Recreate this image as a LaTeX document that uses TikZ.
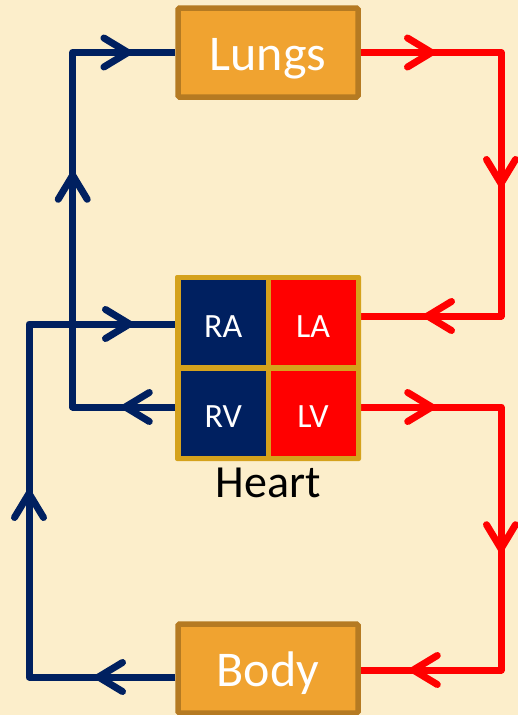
\documentclass[tikz,border=0pt]{standalone}
\usepackage{fontspec}
\setmainfont{Carlito}
\usetikzlibrary{arrows.meta,decorations.markings}
\pgfdeclarelayer{back}\pgfdeclarelayer{bg}\pgfsetlayers{back,bg,main}
\definecolor{bgc}{HTML}{FCEECB}
\definecolor{navyc}{HTML}{002060}
\definecolor{redc}{HTML}{FF0000}
\definecolor{orfill}{HTML}{F0A330}
\definecolor{ordraw}{HTML}{B57A22}
\definecolor{goldc}{HTML}{D5A21C}
\tikzset{
  chev/.tip={Straight Barb[length=24pt,width=29pt,line cap=round,line join=round]},
  flow/.style={line width=7pt,line join=round,postaction={decorate}},
  organ/.style={draw=ordraw,fill=orfill,line width=5.5pt,rounded corners=1.5pt,
    minimum width=180pt,minimum height=89pt,inner sep=0pt,text=white,
    font=\fontsize{50}{60}\selectfont,text height=36pt,text depth=0pt},
  cell/.style={minimum width=85pt,minimum height=85pt,inner sep=0pt,text=white,
    font=\fontsize{34}{40}\selectfont,text height=29pt,text depth=0pt},
}
\begin{document}
\begin{tikzpicture}[x=1pt,y=-1pt]
\begin{pgfonlayer}{back}
\fill[bgc] (0,0) rectangle (518,715);
\end{pgfonlayer}
\useasboundingbox (0,0) rectangle (518,715);
% nodes
\node[organ] (lungs) at (268,52.5) {Lungs};
\node[organ] (body) at (268,668.5) {Body};
\node[fill=goldc,rounded corners=2pt,minimum width=186pt,minimum height=186pt,inner sep=0pt] (heart) at (268,368) {};
\node[cell,fill=navyc] (ra) at (223.2,322.5) {RA};
\node[cell,fill=redc]  (la) at (313,322.5) {LA};
\node[cell,fill=navyc] (rv) at (223.2,413) {RV};
\node[cell,fill=redc]  (lv) at (313,413) {LV};
\node[anchor=base,font=\fontsize{46}{55}\selectfont,inner sep=0pt] (hlabel) at (268,497) {Heart};
% corners
\coordinate (ctl1) at (72.7,52.5);
\coordinate (ctl2) at (29,324);
\coordinate (ctr1) at (501,316);
\coordinate (ctr2) at (501,670);
\begin{pgfonlayer}{bg}
\draw[navyc,flow,decoration={markings,
  mark=at position 58.7pt with {\arrow{chev}},
  mark=at position 343pt with {\arrow{chev}},
  mark=at position 521pt with {\arrow{chev}}}]
  ([yshift=6pt]rv.west) -| (ctl1) -- (lungs.west);
\draw[navyc,flow,decoration={markings,
  mark=at position 80.25pt with {\arrow{chev}},
  mark=at position 333.25pt with {\arrow{chev}},
  mark=at position 603.25pt with {\arrow{chev}}}]
  ([yshift=-8.5pt]body.west) -| (ctl2) -- ([yshift=-1.5pt]ra.west);
\draw[redc,flow,decoration={markings,
  mark=at position 74.25pt with {\arrow{chev}},
  mark=at position 274.75pt with {\arrow{chev}},
  mark=at position 480.75pt with {\arrow{chev}}}]
  (lungs.east) -| (ctr1) -- ([yshift=6.5pt]la.east);
\draw[redc,flow,decoration={markings,
  mark=at position 79.5pt with {\arrow{chev}},
  mark=at position 290.5pt with {\arrow{chev}},
  mark=at position 499.5pt with {\arrow{chev}}}]
  ([yshift=6pt]lv.east) -| (ctr2) -- ([yshift=-1.5pt]body.east);
\end{pgfonlayer}
\end{tikzpicture}
\end{document}
